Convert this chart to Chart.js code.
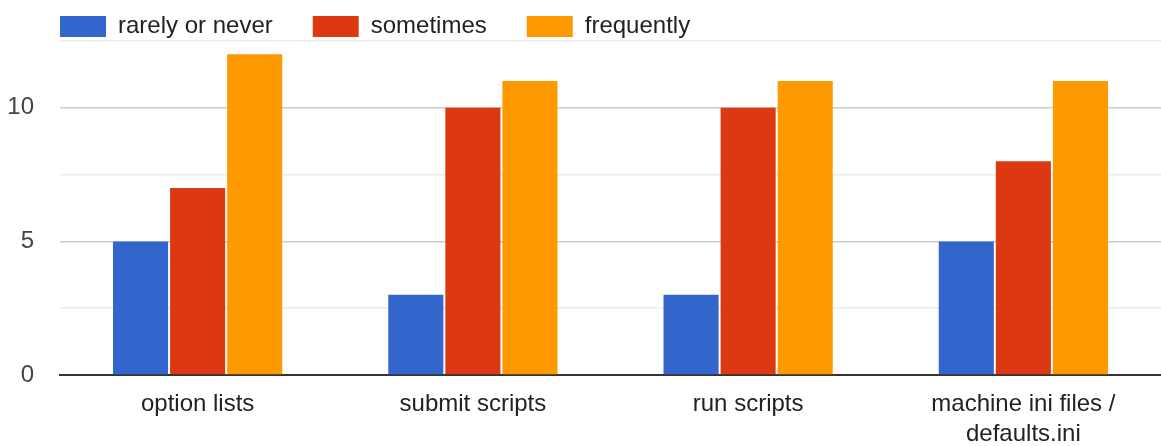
<!DOCTYPE html>
<html>
<head>
<meta charset="utf-8">
<script src="https://cdn.jsdelivr.net/npm/chart.js@4"></script>
<style>
  html, body { margin: 0; padding: 0; background: #fff; }
  #wrap { width: 1161px; height: 446px; }
</style>
</head>
<body>
<div id="wrap"><canvas id="chart"></canvas></div>
<script>
// chart data
const categories = ['option lists', 'submit scripts', 'run scripts', ['machine ini files /', 'defaults.ini']];
const rarelyOrNever = [5, 3, 3, 5];
const sometimes = [7, 10, 10, 8];
const frequently = [12, 11, 11, 11];
const seriesNames = ['rarely or never', 'sometimes', 'frequently'];
const yTicks = [0, 5, 10];

Chart.defaults.font.family = "'Liberation Sans', Arial, sans-serif";

// legend sits a bit to the right of the canvas edge
const legendShift = {
    id: 'legendShift',
    afterLayout(chart) {
        chart.legend.left = 20;
    }
};

var barChart = new Chart(document.getElementById('chart'), {
    type: 'bar',
    data: {
        labels: categories,
        datasets: [{
            label: seriesNames[0],
            data: rarelyOrNever,
            backgroundColor: '#3366cc'
        }, {
            label: seriesNames[1],
            data: sometimes,
            backgroundColor: '#dc3912'
        }, {
            label: seriesNames[2],
            data: frequently,
            backgroundColor: '#ff9900'
        }]
    },
    plugins: [legendShift],
    options: {
        responsive: true,
        maintainAspectRatio: false,
        animation: false,
        categoryPercentage: 0.622,
        barPercentage: 0.965,
        layout: {
            padding: { left: 0, right: 0, top: -25.5, bottom: 0 }
        },
        plugins: {
            tooltip: { enabled: false },
            legend: {
                position: 'top',
                align: 'start',
                maxHeight: 66.5,
                labels: {
                    boxWidth: 46,
                    boxHeight: 21,
                    padding: 40,
                    color: '#222',
                    font: { size: 24 }
                }
            }
        },
        scales: {
            x: {
                grid: { display: false, drawTicks: false },
                border: { display: true, color: '#333', width: 2 },
                ticks: {
                    color: '#222',
                    padding: 14,
                    maxRotation: 0,
                    autoSkip: false,
                    font: { size: 24, lineHeight: 1.25 }
                },
                afterFit: function(scale) { scale.height = 71; }
            },
            y: {
                min: 0,
                max: 12.5,
                border: { display: false },
                grid: {
                    drawTicks: false,
                    lineWidth: 1.5,
                    color: function(ctx) {
                        if (!ctx.tick) return '#ebebeb';
                        if (ctx.tick.value === 0) return 'rgba(0,0,0,0)';
                        return yTicks.includes(ctx.tick.value) ? '#cccccc' : '#ebebeb';
                    }
                },
                ticks: {
                    stepSize: 2.5,
                    color: '#444',
                    padding: 26,
                    font: { size: 24 },
                    callback: function(value) {
                        return yTicks.includes(value) ? value : '';
                    }
                },
                afterFit: function(scale) { scale.width = 60; }
            }
        }
    }
});
</script>
</body>
</html>
